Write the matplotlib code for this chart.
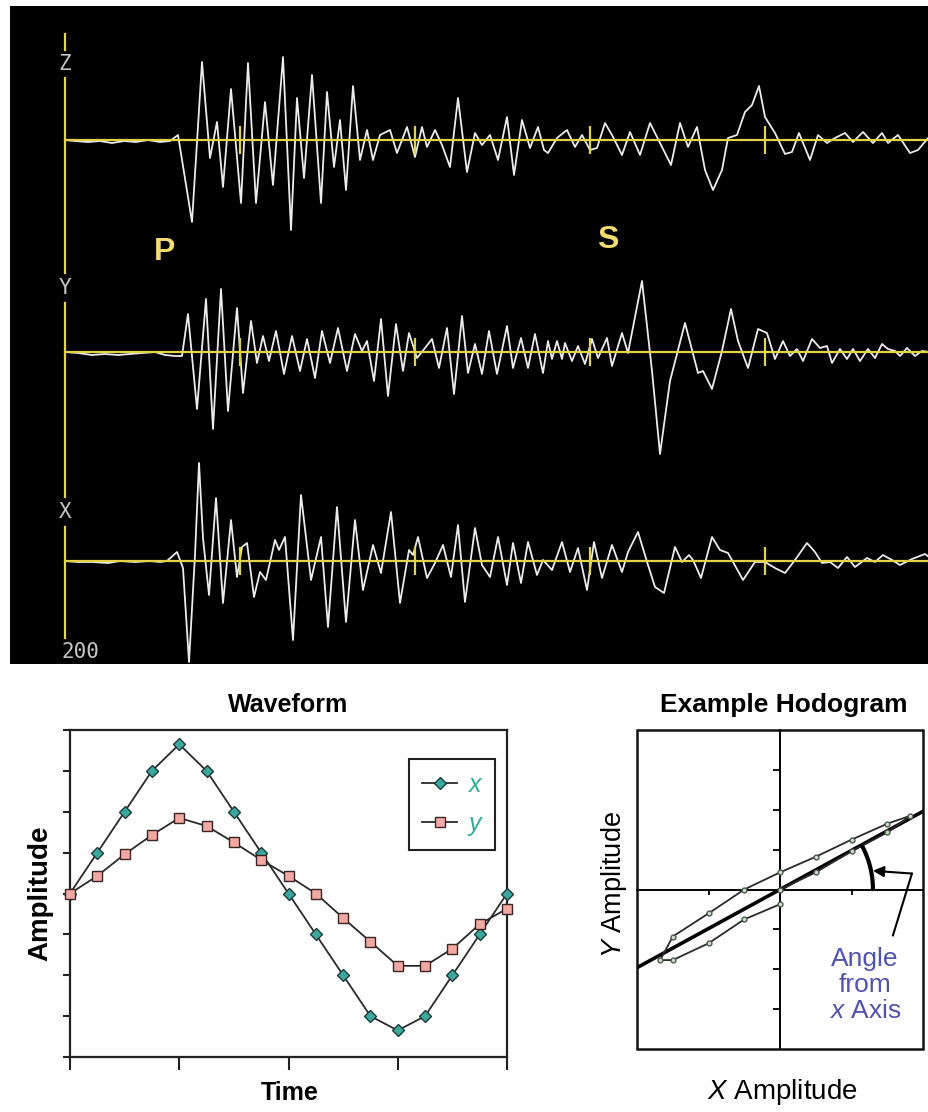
import matplotlib
matplotlib.use("Agg")
import matplotlib.pyplot as plt
import numpy as np

plt.rcParams['font.family'] = ['Liberation Sans', 'DejaVu Sans']
plt.rcParams['mathtext.fontset'] = 'custom'
plt.rcParams['mathtext.rm'] = 'Liberation Sans'
plt.rcParams['mathtext.it'] = 'Liberation Sans:italic'

# --- seismogram traces: (time sample, amplitude) ---
z_trace = [(65,0),(75,-1),(88,-2),(100,-1),(112,-3),(124,-1),(136,-2),(148,0),(160,-2),(170,-1),
           (178,5),(192,-82),(202,78),(210,-18),(217,18),(223,-47),(231,51),(241,-63),(248,77),(256,-63),
           (265,38),(273,-45),(283,83),(291,-90),(297,42),(304,-38),(312,65),(321,-63),(327,48),(334,-27),
           (340,20),(346,-50),(353,54),(360,-20),(367,10),(373,-20),(380,5),(390,10),(397,-13),(407,13),
           (415,-17),(422,13),(427,-7),(435,10),(442,-5),(450,-27),(458,42),(467,-32),(475,7),(482,-5),
           (490,5),(498,-20),(507,23),(514,-35),(522,20),(530,-8),(538,13),(544,-10),(548,-13),(557,2),
           (567,10),(575,-7),(582,5),(590,-10),(597,-8),(605,17),(612,5),(622,-15),(630,8),(640,-15),
           (650,17),(660,-3),(671,-25),(680,17),(688,-7),(697,13),(705,-30),(713,-50),(722,-30),(728,2),
           (737,5),(745,28),(752,35),(759,54),(765,23),(775,7),(785,-14),(792,-12),(799,7),(810,-20),
           (818,5),(827,-3),(835,2),(845,7),(853,-2),(863,8),(873,-3),(882,7),(888,-3),(898,5),
           (910,-13),(918,-10),(929,3)]

y_trace = [(65,0),(78,-1),(92,-3),(105,-2),(118,-3),(130,-2),(142,-1),(155,0),(165,-3),(175,-4),
           (182,-4),(188,38),(197,-57),(206,53),(213,-77),(221,63),(228,-59),(237,44),(243,-41),(251,31),
           (257,-11),(263,16),(269,-9),(276,21),(284,-22),(292,16),(300,-19),(307,13),(315,-26),(322,21),
           (330,-11),(338,24),(347,-19),(355,18),(362,1),(367,11),(374,-29),(381,33),(388,-44),(396,28),
           (403,-19),(409,19),(417,-6),(425,4),(432,13),(439,-16),(447,24),(454,-42),(462,36),(468,-21),
           (475,8),(482,-22),(489,21),(497,-22),(507,26),(513,-16),(521,14),(528,-16),(535,18),(543,-21),
           (548,11),(552,-7),(557,11),(562,-7),(565,9),(572,-9),(578,6),(585,-12),(592,13),(598,-6),
           (607,14),(612,-14),(622,19),(628,-1),(642,71),(652,-19),(660,-102),(670,-29),(685,29),(698,-21),
           (703,-19),(712,-37),(722,1),(731,43),(738,11),(748,-16),(758,23),(767,19),(775,-7),(783,11),
           (790,-4),(797,3),(803,-9),(812,13),(820,4),(827,6),(832,-11),(840,3),(847,-7),(853,3),
           (860,-9),(868,3),(875,-6),(882,8),(888,3),(895,1),(900,-4),(907,4),(915,-4),(922,1),(929,0)]

x_trace = [(65,0),(78,-1),(92,-1),(108,-2),(120,0),(135,-1),(150,0),(160,-1),(167,0),(177,9),
           (183,-7),(189,-101),(195,6),(199,98),(203,23),(209,-34),(216,63),(223,-42),(231,41),(237,-16),
           (242,14),(247,18),(254,-36),(260,-11),(266,-19),(275,21),(279,11),(285,24),(293,-79),(301,66),
           (311,-19),(321,24),(328,-66),(337,54),(346,-61),(355,41),(363,-29),(373,16),(381,-12),(391,49),
           (400,-42),(409,11),(413,6),(418,24),(427,-17),(435,-2),(443,16),(451,-16),(458,36),(465,-41),
           (475,33),(482,-4),(490,-16),(498,24),(507,-24),(513,18),(521,-22),(528,19),(537,-14),(543,1),
           (552,-9),(562,19),(570,-11),(578,13),(587,-29),(594,19),(602,-17),(612,16),(622,-11),(628,9),
           (638,29),(648,-4),(655,-26),(664,-32),(675,14),(682,-1),(689,6),(693,1),(701,-17),(712,24),
           (720,11),(728,8),(743,-19),(755,-1),(765,-1),(775,-7),(785,-12),(795,1),(807,18),(815,9),
           (822,-2),(830,-1),(838,-7),(847,4),(855,-6),(867,3),(875,-1),(883,6),(892,1),(900,-4),
           (912,2),(925,7),(929,4)]

channel_names = ['Z', 'Y', 'X']
time_marks = [240, 415, 590, 765]
scale_label = '200'

# --- waveform / hodogram ---
wave_t = list(range(17))
wave_x = [0, 1.0, 2.0, 3.0, 3.65, 3.0, 2.0, 1.0, 0, -1.0, -2.0, -3.0, -3.35, -3.0, -2.0, -1.0, 0]
wave_y = [0, 0.43, 0.96, 1.43, 1.85, 1.65, 1.25, 0.82, 0.43, 0, -0.6, -1.18, -1.77, -1.77, -1.35, -0.75, -0.37]
fit_slope = 0.49

W, H = 929, 1112
fig = plt.figure(figsize=(W / 100, H / 100), dpi=100)

# ---------------- seismogram panel ----------------
top, bot = 6, 664
ax0 = fig.add_axes([10 / W, 1 - bot / H, 919 / W, (bot - top) / H])
ax0.set_facecolor('black')
ax0.set_xlim(10, 929)
ax0.set_ylim(0, bot - top)
ax0.set_xticks([]); ax0.set_yticks([])
for s in ax0.spines.values():
    s.set_visible(False)

yellow = '#e2d44a'
baselines = {'Z': bot - 140, 'Y': bot - 352, 'X': bot - 561}
traces = {'Z': z_trace, 'Y': y_trace, 'X': x_trace}
for name in channel_names:
    arr = np.array(traces[name], dtype=float)
    b = baselines[name]
    ax0.plot(arr[:, 0], b + arr[:, 1], color='#ececec', lw=1.3, zorder=2)
    ax0.plot([65, 929], [b, b], color=yellow, lw=1.6, zorder=3)
    ax0.vlines(time_marks, b - 14, b + 14, color=yellow, lw=1.6, zorder=3)

# vertical axis with gaps where the channel labels sit
for y1, y2 in [(34, 50), (78, 273), (303, 497), (527, 638)]:
    ax0.plot([65, 65], [bot - y1, bot - y2], color=yellow, lw=1.6, zorder=3)
for name, ypix in zip(channel_names, [64, 288, 512]):
    ax0.text(65, bot - ypix, name, color='#c4c4c4', fontsize=15, family='DejaVu Sans Mono',
             ha='center', va='center')
ax0.text(80, bot - 652, scale_label, color='#c4c4c4', fontsize=15, family='DejaVu Sans Mono',
         ha='center', va='center')
ax0.text(165, bot - 252, 'P', color='#f5dc6e', fontsize=23, fontweight='bold', ha='center', va='center')
ax0.text(608, bot - 240, 'S', color='#f5dc6e', fontsize=23, fontweight='bold', ha='center', va='center')

# ---------------- waveform ----------------
ax1 = fig.add_axes([70 / W, 1 - 1057 / H, 437 / W, 327 / H])
ax1.plot(wave_t, wave_x, '-D', color='#2a2a2a', lw=1.3, ms=6, mfc='#3aa89c', mec='#1d3b3b',
         label='x', clip_on=False, zorder=3)
ax1.plot(wave_t, wave_y, '-s', color='#2a2a2a', lw=1.3, ms=7.5, mfc='#f2a8a3', mec='#3a2323',
         label='y', clip_on=False, zorder=4)
ax1.set_xlim(0, 16)
ax1.set_ylim(-4, 4)
ax1.set_xticks([0, 4, 8, 12, 16])
ax1.set_yticks(range(-4, 5))
ax1.tick_params(direction='out', labelleft=False, labelbottom=False, width=1.5, color='#222')
ax1.tick_params(axis='x', length=9)
ax1.tick_params(axis='y', length=5)
for s in ax1.spines.values():
    s.set_linewidth(1.6)
    s.set_color('#222')
leg = ax1.legend(loc='upper right', bbox_to_anchor=(0.9725, 0.911), borderaxespad=0,
                 fancybox=False, edgecolor='#222', framealpha=1, handlelength=1.4,
                 prop={'size': 18, 'style': 'italic'}, labelcolor='#2fae98',
                 borderpad=0.55, labelspacing=0.6, handletextpad=0.45)
leg.get_frame().set_linewidth(1.5)
ax1.text(0.5, 1.076, 'Waveform', transform=ax1.transAxes, ha='center', va='center',
         fontsize=18, fontweight='bold')
ax1.text(0.503, -0.11, 'Time', transform=ax1.transAxes, ha='center', va='center',
         fontsize=18, fontweight='bold')
ax1.text(-0.069, 0.5, 'Amplitude', transform=ax1.transAxes, ha='center', va='center',
         fontsize=20, fontweight='bold', rotation=90)

# ---------------- hodogram ----------------
ax2 = fig.add_axes([637 / W, 1 - 1049 / H, 286 / W, 319 / H])
ax2.set_xlim(-4, 4)
ax2.set_ylim(-4, 4)
ax2.spines['left'].set_position(('data', 0))
ax2.spines['bottom'].set_position(('data', 0))
ax2.spines['top'].set_visible(False)
ax2.spines['right'].set_visible(False)
for k in ['left', 'bottom']:
    ax2.spines[k].set_linewidth(1.4)
ax2.add_patch(plt.Rectangle((0, 0), 1, 1, transform=ax2.transAxes, fill=False, lw=1.8,
                            ec='#111', clip_on=False, zorder=5))
ax2.set_xticks([-2, 2])
ax2.set_yticks([-3, -2, -1, 1, 2, 3])
ax2.tick_params(direction='out', labelleft=False, labelbottom=False, width=1.3)
ax2.tick_params(axis='x', length=3.5)
ax2.tick_params(axis='y', length=5)

fx = np.array([-4, 4])
ax2.plot(fx, fit_slope * fx, color='black', lw=2.6, zorder=3)
ax2.plot(wave_x, wave_y, '-o', color='#2a2a2a', lw=1.3, ms=3.5, mfc='#d2ddd2', mec='#4a5a4a', zorder=4)

# angle arc (circular on screen)
rx, ry = 2.6, 2.33
phi_end = np.arctan(fit_slope * rx / ry)
phi = np.linspace(0, phi_end, 40)
ax2.plot(rx * np.cos(phi), ry * np.sin(phi), color='black', lw=3, solid_capstyle='butt', zorder=4)
ax2.plot([3.16, 3.69], [-1.15, 0.40], color='black', lw=1.5, zorder=4)
ax2.annotate('', xy=(2.6, 0.47), xytext=(3.69, 0.40),
             arrowprops=dict(arrowstyle='-|>', lw=1.5, color='black', mutation_scale=16,
                             shrinkA=0, shrinkB=0))
ax2.text(2.38, -2.4, 'Angle\nfrom\n$x$ Axis', color='#5252b0', fontsize=19, ha='center',
         va='center', linespacing=1.1)

ax2.text(0.514, 1.078, 'Example Hodogram', transform=ax2.transAxes, ha='center', va='center',
         fontsize=19, fontweight='bold')
ax2.text(0.51, -0.135, '$X$ Amplitude', transform=ax2.transAxes, ha='center', va='center',
         fontsize=20)
ax2.text(-0.08, 0.517, '$Y$ Amplitude', transform=ax2.transAxes, ha='center', va='center',
         fontsize=19.5, rotation=90)

fig.savefig('out.png', dpi=100, facecolor='white')
